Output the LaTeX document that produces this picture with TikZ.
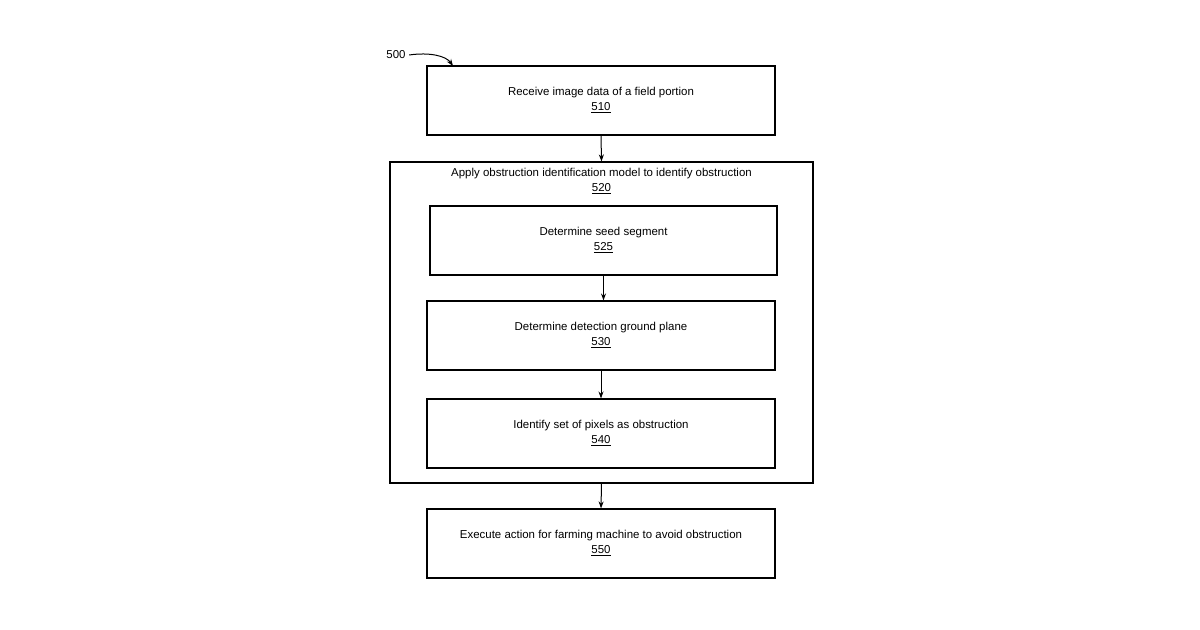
\documentclass[tikz,border=0pt]{standalone}
\usepackage{fontspec}
\setmainfont{Liberation Sans}
\usetikzlibrary{arrows.meta}
\begin{document}
\begin{tikzpicture}[x=1bp,y=-1bp,
  box/.style={draw,line width=1.1bp,inner sep=0pt},
  lab/.style={font=\fontsize{11.5}{15}\selectfont,align=center},
  arr/.style={-{Stealth[length=7bp,width=5bp]},line width=1bp}]
\useasboundingbox (0,0) rectangle (1200,630);
\node[box,minimum width=348bp,minimum height=69bp] (b510) at (601,100.5) {};
\node[lab] at (601,100) {Receive image data of a field portion\\\underline{510}};
\node[box,minimum width=423bp,minimum height=321bp] (b520) at (601.5,322.5) {};
\node[lab] at (601.5,181) {Apply obstruction identification model to identify obstruction\\\underline{520}};
\node[box,minimum width=347bp,minimum height=69bp] (b525) at (603.5,240.5) {};
\node[lab] at (603.5,240) {Determine seed segment\\\underline{525}};
\node[box,minimum width=348bp,minimum height=69bp] (b530) at (601,335.5) {};
\node[lab] at (601,335) {Determine detection ground plane\\\underline{530}};
\node[box,minimum width=348bp,minimum height=69bp] (b540) at (601,433.5) {};
\node[lab] at (601,433) {Identify set of pixels as obstruction\\\underline{540}};
\node[box,minimum width=348bp,minimum height=69bp] (b550) at (601,543.5) {};
\node[lab] at (601,543) {Execute action for farming machine to avoid obstruction\\\underline{550}};
\node[lab] (l500) at (396,55) {500};
\coordinate (t) at (453,66);
\draw[arr] (l500.east) .. controls (430,52) and (446,56) .. (t);
\draw[arr] (b510.south) -- (b520.north);
\draw[arr] (b525.south) -- (b530.north -| b525.south);
\draw[arr] (b530.south) -- (b540.north);
\draw[arr] (b520.south) -- (b550.north);
\end{tikzpicture}
\end{document}
